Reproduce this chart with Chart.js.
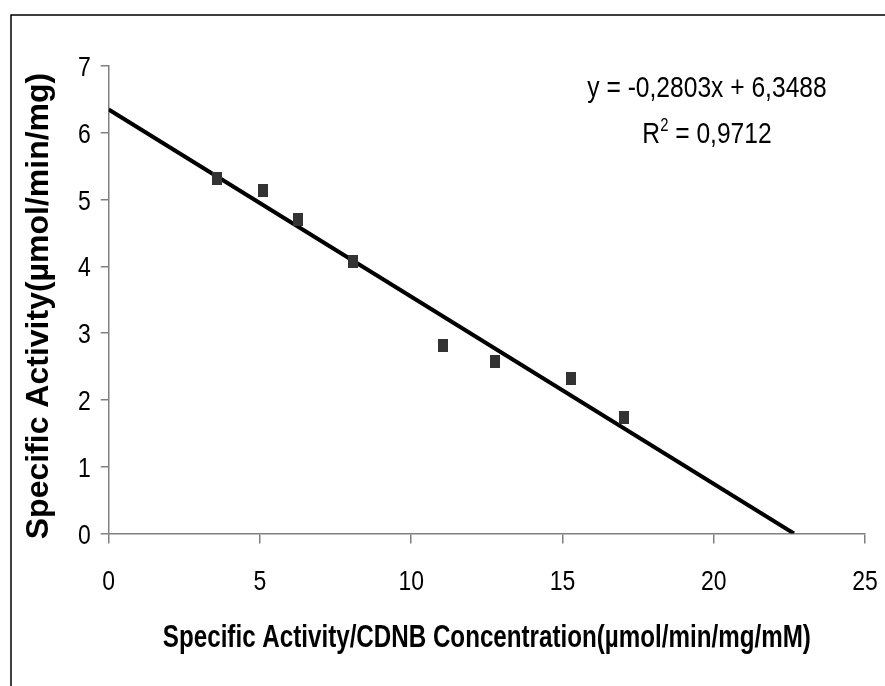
<!DOCTYPE html>
<html>
<head>
<meta charset="utf-8">
<script src="https://cdn.jsdelivr.net/npm/chart.js@4/dist/chart.umd.min.js"></script>
<style>
    html, body { margin: 0; padding: 0; background: #fff; }
    #wrap { width: 885px; height: 686px; position: relative; }
</style>
</head>
<body>
<div id="wrap"><canvas id="kineticChart"></canvas></div>
<script>
// ========== 数据 ==========
// Specific Activity / CDNB concentration (x) vs Specific Activity (y)
const ratioValues = [3.57, 5.09, 6.25, 8.09, 11.06, 12.78, 15.28, 17.04];
const activityValues = [5.32, 5.14, 4.70, 4.08, 2.81, 2.57, 2.32, 1.73];

// linear trendline end points (y = -0,2803x + 6,3488)
const trendX = [0, 22.65];
const trendY = [6.3488, 0];

const xTicks = [0, 5, 10, 15, 20, 25];
const yTicks = [0, 1, 2, 3, 4, 5, 6, 7];

const equationText = 'y = -0,2803x + 6,3488';
const r2Value = '0,9712';
const xTitle = 'Specific Activity/CDNB Concentration(µmol/min/mg/mM)';
const yTitle = 'Specific Activity(µmol/min/mg)';

// no narrow font installed -> squeeze Liberation Sans horizontally
const FONT = "'Liberation Sans', Arial, sans-serif";
const NARROW_X = 0.82;

// square-ish marker
function makeMarker() {
    const c = document.createElement('canvas');
    c.width = 10;
    c.height = 13;
    const g = c.getContext('2d');
    g.fillStyle = '#333333';
    g.fillRect(0, 0, 10, 13);
    return c;
}

function drawSqueezed(ctx, text, x, y, align, font, sx) {
    ctx.save();
    ctx.font = font;
    ctx.textAlign = align;
    ctx.textBaseline = 'alphabetic';
    ctx.translate(x, y);
    ctx.scale(sx, 1);
    ctx.fillText(text, 0, 0);
    ctx.restore();
}

// ========== 边框 / 刻度文字 / 标题 / 方程式 ==========
const decorPlugin = {
    id: 'decor',
    beforeDraw(chart) {
        const ctx = chart.ctx;
        ctx.save();
        ctx.fillStyle = '#fff';
        ctx.fillRect(0, 0, chart.width, chart.height);
        ctx.restore();
    },
    afterDraw(chart) {
        const ctx = chart.ctx;
        const xs = chart.scales.x;
        const ys = chart.scales.y;
        ctx.save();
        ctx.fillStyle = '#000';

        // outer frame (top + left edge visible)
        ctx.strokeStyle = '#000';
        ctx.lineWidth = 1.5;
        ctx.beginPath();
        ctx.moveTo(11, chart.height);
        ctx.lineTo(11, 15);
        ctx.lineTo(chart.width, 15);
        ctx.stroke();

        // tick labels
        const tickFont = '28px ' + FONT;
        xTicks.forEach(v => {
            drawSqueezed(ctx, String(v), xs.getPixelForValue(v), ys.bottom + 56, 'center', tickFont, NARROW_X);
        });
        yTicks.forEach(v => {
            drawSqueezed(ctx, String(v), xs.left - 18, ys.getPixelForValue(v) + 10, 'right', tickFont, NARROW_X);
        });

        // x axis title (measured to the reference width)
        ctx.font = 'bold 32px ' + FONT;
        const titleW = ctx.measureText(xTitle).width;
        drawSqueezed(ctx, xTitle, (xs.left + xs.right) / 2, 647, 'center', 'bold 32px ' + FONT, 648 / titleW);

        // y axis title
        ctx.save();
        ctx.font = 'bold 32px ' + FONT;
        ctx.textAlign = 'center';
        ctx.textBaseline = 'alphabetic';
        ctx.translate(48, 306);
        ctx.rotate(-Math.PI / 2);
        ctx.fillText(yTitle, 0, 0);
        ctx.restore();

        // trendline equation
        const cx = 707;
        const eqFont = '30px ' + FONT;
        const supFont = '18px ' + FONT;
        drawSqueezed(ctx, equationText, cx, 97, 'center', eqFont, NARROW_X);

        // R² line
        const rest = ' = ' + r2Value;
        ctx.font = eqFont;
        const wR = ctx.measureText('R').width * NARROW_X;
        const wRest = ctx.measureText(rest).width * NARROW_X;
        ctx.font = supFont;
        const w2 = ctx.measureText('2').width * NARROW_X;
        let x = cx - (wR + w2 + wRest) / 2;
        drawSqueezed(ctx, 'R', x, 143, 'left', eqFont, NARROW_X);
        x += wR;
        drawSqueezed(ctx, '2', x, 131, 'left', supFont, NARROW_X);
        x += w2;
        drawSqueezed(ctx, rest, x, 143, 'left', eqFont, NARROW_X);

        ctx.restore();
    }
};

const points = ratioValues.map((v, i) => ({ x: v, y: activityValues[i] }));
const trendPoints = trendX.map((v, i) => ({ x: v, y: trendY[i] }));

new Chart(document.getElementById('kineticChart'), {
    type: 'scatter',
    data: {
        datasets: [{
            label: 'data',
            data: points,
            pointStyle: makeMarker(),
            pointRadius: 6,
            pointHoverRadius: 6,
            order: 1
        }, {
            label: 'trend',
            data: trendPoints,
            showLine: true,
            borderColor: '#000',
            borderWidth: 4,
            pointRadius: 0,
            pointHoverRadius: 0,
            fill: false,
            order: 2
        }]
    },
    options: {
        responsive: true,
        maintainAspectRatio: false,
        animation: false,
        events: [],
        layout: { padding: { top: 66, right: 20, left: 0, bottom: 0 } },
        plugins: {
            legend: { display: false },
            tooltip: { enabled: false }
        },
        scales: {
            x: {
                type: 'linear',
                min: 0,
                max: 25,
                afterBuildTicks: scale => { scale.ticks = xTicks.map(v => ({ value: v })); },
                afterFit: scale => { scale.height = 152.5; },
                grid: { drawOnChartArea: false, drawTicks: true, tickLength: 10, color: '#808080', lineWidth: 1.5 },
                border: { color: '#808080', width: 1.5 },
                ticks: { display: false }
            },
            y: {
                type: 'linear',
                min: 0,
                max: 7,
                afterBuildTicks: scale => { scale.ticks = yTicks.map(v => ({ value: v })); },
                afterFit: scale => { scale.width = 108.7; },
                grid: { drawOnChartArea: false, drawTicks: true, tickLength: 8, color: '#808080', lineWidth: 1.5 },
                border: { color: '#808080', width: 1.5 },
                ticks: { display: false }
            }
        }
    },
    plugins: [decorPlugin]
});
</script>
</body>
</html>
